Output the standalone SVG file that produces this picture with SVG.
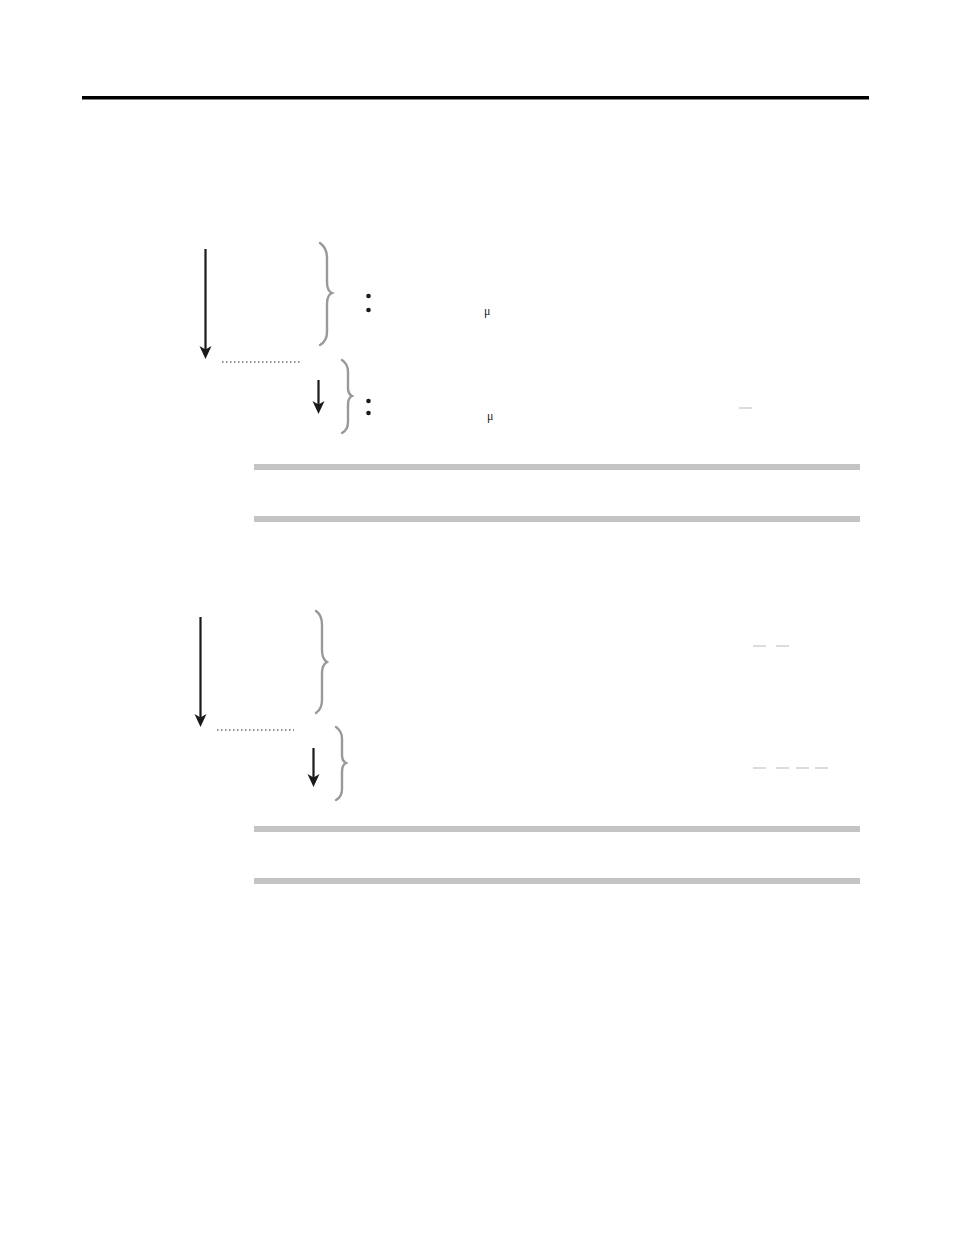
<svg xmlns="http://www.w3.org/2000/svg" width="954" height="1235" viewBox="0 0 954 1235">
<style>
.arrow{stroke:#1a1a1a;stroke-width:2.2;fill:none}
.head{fill:#1a1a1a}
.dot{stroke:#222;stroke-width:1;stroke-dasharray:1.5 2.5;fill:none}
.brace{stroke:#999;stroke-width:2.4;fill:none;stroke-linecap:round}
.bar{fill:#c4c4c4}
.dash{stroke:#d0d0d0;stroke-width:1.5}
.mu{font-family:"Liberation Serif",serif;font-size:12px;fill:#222}
.bul{fill:#1a1a1a}
</style>
<rect x="0" y="0" width="954" height="1235" fill="#fff"/>
<rect x="82" y="96" width="787" height="3.5" fill="#000"/>
<g id="connectors">
<line class="arrow" x1="205.5" y1="249" x2="205.5" y2="350"/>
<path class="head" d="M199.5,346 L205.5,359 L211.5,346 L205.5,349.5 Z"/>
<line class="dot" x1="222" y1="362" x2="300" y2="362"/>
<line class="arrow" x1="318.5" y1="380" x2="318.5" y2="405"/>
<path class="head" d="M312.5,401 L318.5,414 L324.5,401 L318.5,404.5 Z"/>
<line class="arrow" x1="200.5" y1="617" x2="200.5" y2="718"/>
<path class="head" d="M194.5,714 L200.5,727 L206.5,714 L200.5,717.5 Z"/>
<line class="dot" x1="217" y1="730" x2="294" y2="730"/>
<line class="arrow" x1="313.5" y1="748" x2="313.5" y2="778"/>
<path class="head" d="M307.5,774 L313.5,787 L319.5,774 L313.5,777.5 Z"/>
</g>
<g id="brace1">
<path class="brace" d="M320,243 Q327,248 327,258 L327,282 Q327,291 332,293 Q327,295 327,304 L327,332 Q327,341 320,345"/>
</g>
<g id="brace2">
<path class="brace" d="M342,360 Q348,364 348,372 L348,388 Q348,394 352,396 Q348,398 348,405 L348,422 Q348,430 342,433"/>
</g>
<g id="brace3">
<path class="brace" d="M316,611 Q322,615 322,625 L322,650 Q322,659 327,662 Q322,665 322,673 L322,700 Q322,709 316,713"/>
</g>
<g id="brace4">
<path class="brace" d="M336,727 Q342,731 342,739 L342,755 Q342,761 346,763 Q342,765 342,772 L342,789 Q342,797 336,800"/>
</g>
<g id="bullets">
<circle class="bul" cx="368.5" cy="296" r="2.3"/>
<circle class="bul" cx="368.5" cy="310" r="2.3"/>
<circle class="bul" cx="368.5" cy="401" r="2.3"/>
<circle class="bul" cx="368.5" cy="413" r="2.3"/>
<text class="mu" x="484" y="315">μ</text>
<text class="mu" x="487" y="420">μ</text>
</g>
<g id="marks">
<line class="dash" x1="739" y1="408" x2="752" y2="408"/>
<line class="dash" x1="753" y1="646" x2="766" y2="646"/>
<line class="dash" x1="776" y1="646" x2="789" y2="646"/>
<line class="dash" x1="753" y1="768" x2="766" y2="768"/>
<line class="dash" x1="776" y1="768" x2="789" y2="768"/>
<line class="dash" x1="796" y1="768" x2="809" y2="768"/>
<line class="dash" x1="815" y1="768" x2="828" y2="768"/>
</g>
<g id="bars">
<rect class="bar" x="254" y="464" width="606" height="6"/>
<rect class="bar" x="254" y="516" width="606" height="6"/>
<rect class="bar" x="254" y="826" width="606" height="6"/>
<rect class="bar" x="254" y="878" width="606" height="6"/>
</g>
</svg>
